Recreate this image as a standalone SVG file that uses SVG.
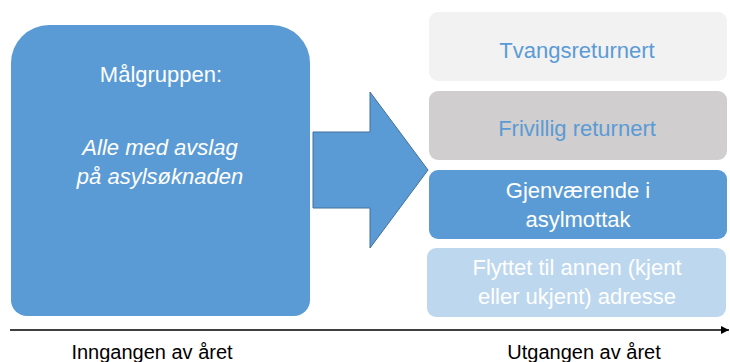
<svg xmlns="http://www.w3.org/2000/svg" width="730" height="362" viewBox="0 0 730 362">
<style>
text{font-family:"Liberation Sans",Arial,sans-serif;text-anchor:middle}
.t22{font-size:22px}
.w{fill:#ffffff}
.b{fill:#5B9BD5}
.lab{font-size:20px;fill:#000000}
</style>
<defs>
<marker id="ah" viewBox="0 0 10 10" refX="10" refY="5" markerWidth="8" markerHeight="10" markerUnits="userSpaceOnUse" orient="auto">
<path d="M0,0 L10,5 L0,10 Z" fill="#000"/>
</marker>
</defs>
<rect width="730" height="362" fill="#ffffff"/>
<g id="malgruppen">
<path d="M49,25 H272 A38,38 0 0 1 310,63 V300 A16,16 0 0 1 294,316 H27 A16,16 0 0 1 11,300 V63 A38,38 0 0 1 49,25 Z" fill="#5B9BD5"/>
<text class="t22 w" x="161" y="82">Målgruppen:</text>
<text class="t22 w" x="160" y="155" font-style="italic">Alle med avslag</text>
<text class="t22 w" x="160" y="184" font-style="italic">på asylsøknaden</text>
</g>
<g id="connectors">
<polygon id="big-arrow" points="313,132 370,132 370,92 428,170 370,248 370,208 313,208" fill="#5B9BD5" stroke="#41719C" stroke-width="1"/>
<line id="axis" x1="10" y1="330" x2="729" y2="330" stroke="#000" stroke-width="1.5" marker-end="url(#ah)"/>
</g>
<g id="tvangsreturnert">
<rect x="429" y="12" width="298" height="69" rx="9" fill="#F2F2F2"/>
<text class="t22 b" x="577" y="58">Tvangsreturnert</text>
</g>
<g id="frivillig">
<rect x="429" y="91" width="298" height="69" rx="9" fill="#D0CECE"/>
<text class="t22 b" x="577" y="136">Frivillig returnert</text>
</g>
<g id="gjenvaerende">
<rect x="429" y="170" width="298" height="69" rx="9" fill="#5B9BD5"/>
<text class="t22 w" x="578" y="198">Gjenværende i</text>
<text class="t22 w" x="578" y="227">asylmottak</text>
</g>
<g id="flyttet">
<rect x="427" y="248" width="299" height="69" rx="9" fill="#BDD7EE"/>
<text class="t22 w" x="577" y="275">Flyttet til annen (kjent</text>
<text class="t22 w" x="577" y="304">eller ukjent) adresse</text>
</g>
<g id="labels">
<text class="lab" x="152" y="359">Inngangen av året</text>
<text class="lab" x="584" y="359">Utgangen av året</text>
</g>
</svg>
